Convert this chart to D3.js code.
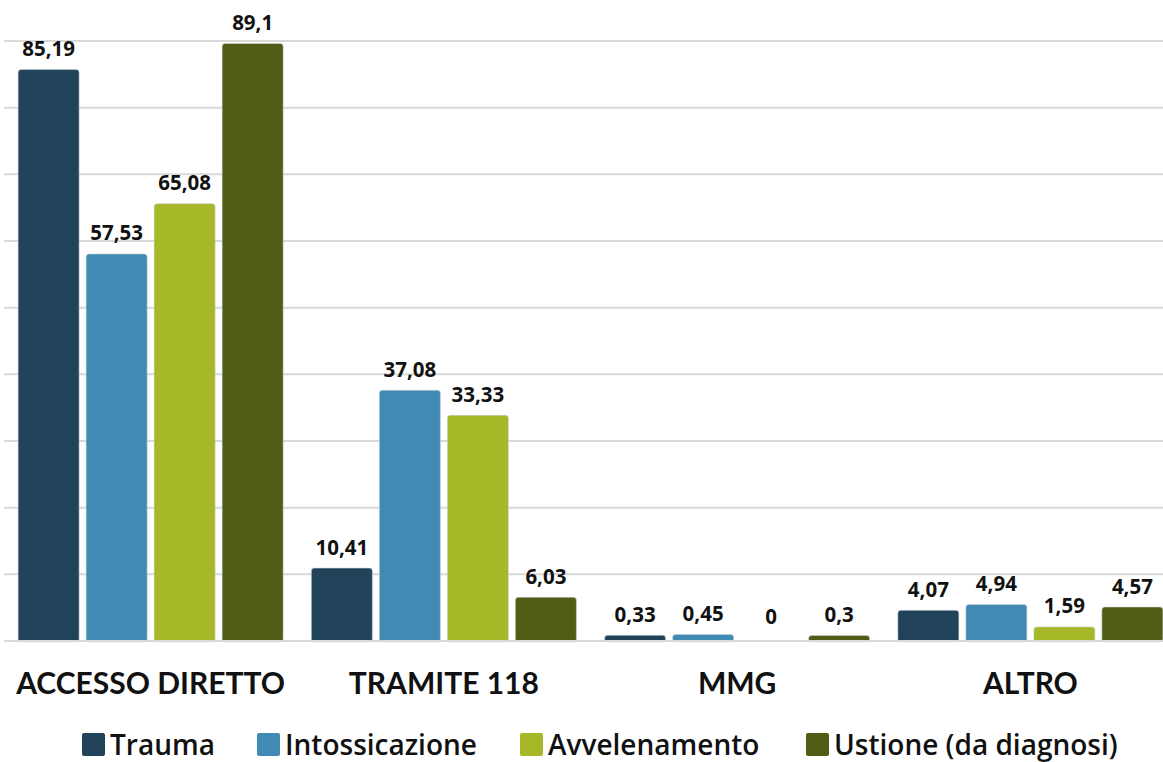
<!DOCTYPE html>
<html>
<head>
<meta charset="utf-8">
<script src="https://cdn.jsdelivr.net/npm/d3@7"></script>
<style>
  html, body { margin: 0; padding: 0; background: #fff; }
  svg { display: block; }
</style>
</head>
<body>
<svg id="chart" width="1163" height="762"></svg>
<script>
const categories = ["ACCESSO DIRETTO", "TRAMITE 118", "MMG", "ALTRO"];
const seriesNames = ["Trauma", "Intossicazione", "Avvelenamento", "Ustione (da diagnosi)"];
const trauma = [85.19, 10.41, 0.33, 4.07];
const intossicazione = [57.53, 37.08, 0.45, 4.94];
const avvelenamento = [65.08, 33.33, 0, 1.59];
const ustione = [89.1, 6.03, 0.3, 4.57];
const yTicks = [0, 10, 20, 30, 40, 50, 60, 70, 80, 90];
const colors = ["#21435a", "#418ab3", "#a6b727", "#525c15"];

const seriesValues = [trauma, intossicazione, avvelenamento, ustione];

const svg = d3.select("#chart");
const W = 1163, H = 762;
const plotLeft = 4, plotRight = 1177, baseY = 641, topY = 41;

const x0 = d3.scaleBand().domain(categories).range([plotLeft, plotRight]).paddingInner(0).paddingOuter(0);
const x1 = d3.scaleBand().domain(seriesNames).range([0, x0.bandwidth()]).paddingInner(0.088).paddingOuter(0.2);
const y = d3.scaleLinear().domain([0, 90]).range([baseY, topY]);

// gridlines
const grid = svg.append("g").attr("class", "grid");
grid.selectAll("line").data(yTicks).join("line")
  .attr("x1", plotLeft).attr("x2", W)
  .attr("y1", d => y(d)).attr("y2", d => y(d))
  .attr("stroke", "#d9d9d9").attr("stroke-width", 2);

const fmt = v => String(v).replace(".", ",");

// bars
const groups = svg.append("g").selectAll("g").data(categories).join("g")
  .attr("transform", d => `translate(${x0(d)},0)`);

groups.each(function(cat, ci) {
  const g = d3.select(this);
  seriesNames.forEach((s, si) => {
    const v = seriesValues[si][ci];
    const bx = x1(s), bw = x1.bandwidth();
    if (v > 0) {
      const top = y(v) - 3.5;
      g.append("rect")
        .attr("x", bx + 0.5).attr("y", top)
        .attr("width", bw - 1).attr("height", baseY + 1 - top)
        .attr("rx", 3).attr("ry", 3)
        .attr("fill", colors[si])
        .attr("stroke", "#c8d3da").attr("stroke-opacity", 0.55).attr("stroke-width", 1);
    }
    g.append("text")
      .attr("x", bx + bw / 2)
      .attr("y", y(v) - 17)
      .attr("text-anchor", "middle")
      .attr("font-family", "'Open Sans', sans-serif")
      .attr("font-weight", 700)
      .attr("font-size", 20.5)
      .attr("fill", "#111")
      .text(fmt(v));
  });
});

// baseline line redrawn over bar bottoms
svg.append("line")
  .attr("x1", plotLeft).attr("x2", W)
  .attr("y1", y(0)).attr("y2", y(0))
  .attr("stroke", "#d9d9d9").attr("stroke-width", 2);

// category labels
svg.append("g").selectAll("text").data(categories).join("text")
  .attr("x", d => x0(d) + x0.bandwidth() / 2)
  .attr("y", 694)
  .attr("text-anchor", "middle")
  .attr("font-family", "Lato, sans-serif")
  .attr("font-weight", 700)
  .attr("font-size", 30)
  .attr("fill", "#111")
  .text(d => d);

// legend
const legendX = [82, 257, 520, 806];
const leg = svg.append("g");
seriesNames.forEach((s, i) => {
  leg.append("rect")
    .attr("x", legendX[i]).attr("y", 733)
    .attr("width", 23).attr("height", 23)
    .attr("rx", 2)
    .attr("fill", colors[i]);
  leg.append("text")
    .attr("x", legendX[i] + 28).attr("y", 755)
    .attr("font-family", "'Open Sans', sans-serif")
    .attr("font-weight", 600)
    .attr("font-size", 28)
    .attr("fill", "#111")
    .text(s);
});
</script>
</body>
</html>
